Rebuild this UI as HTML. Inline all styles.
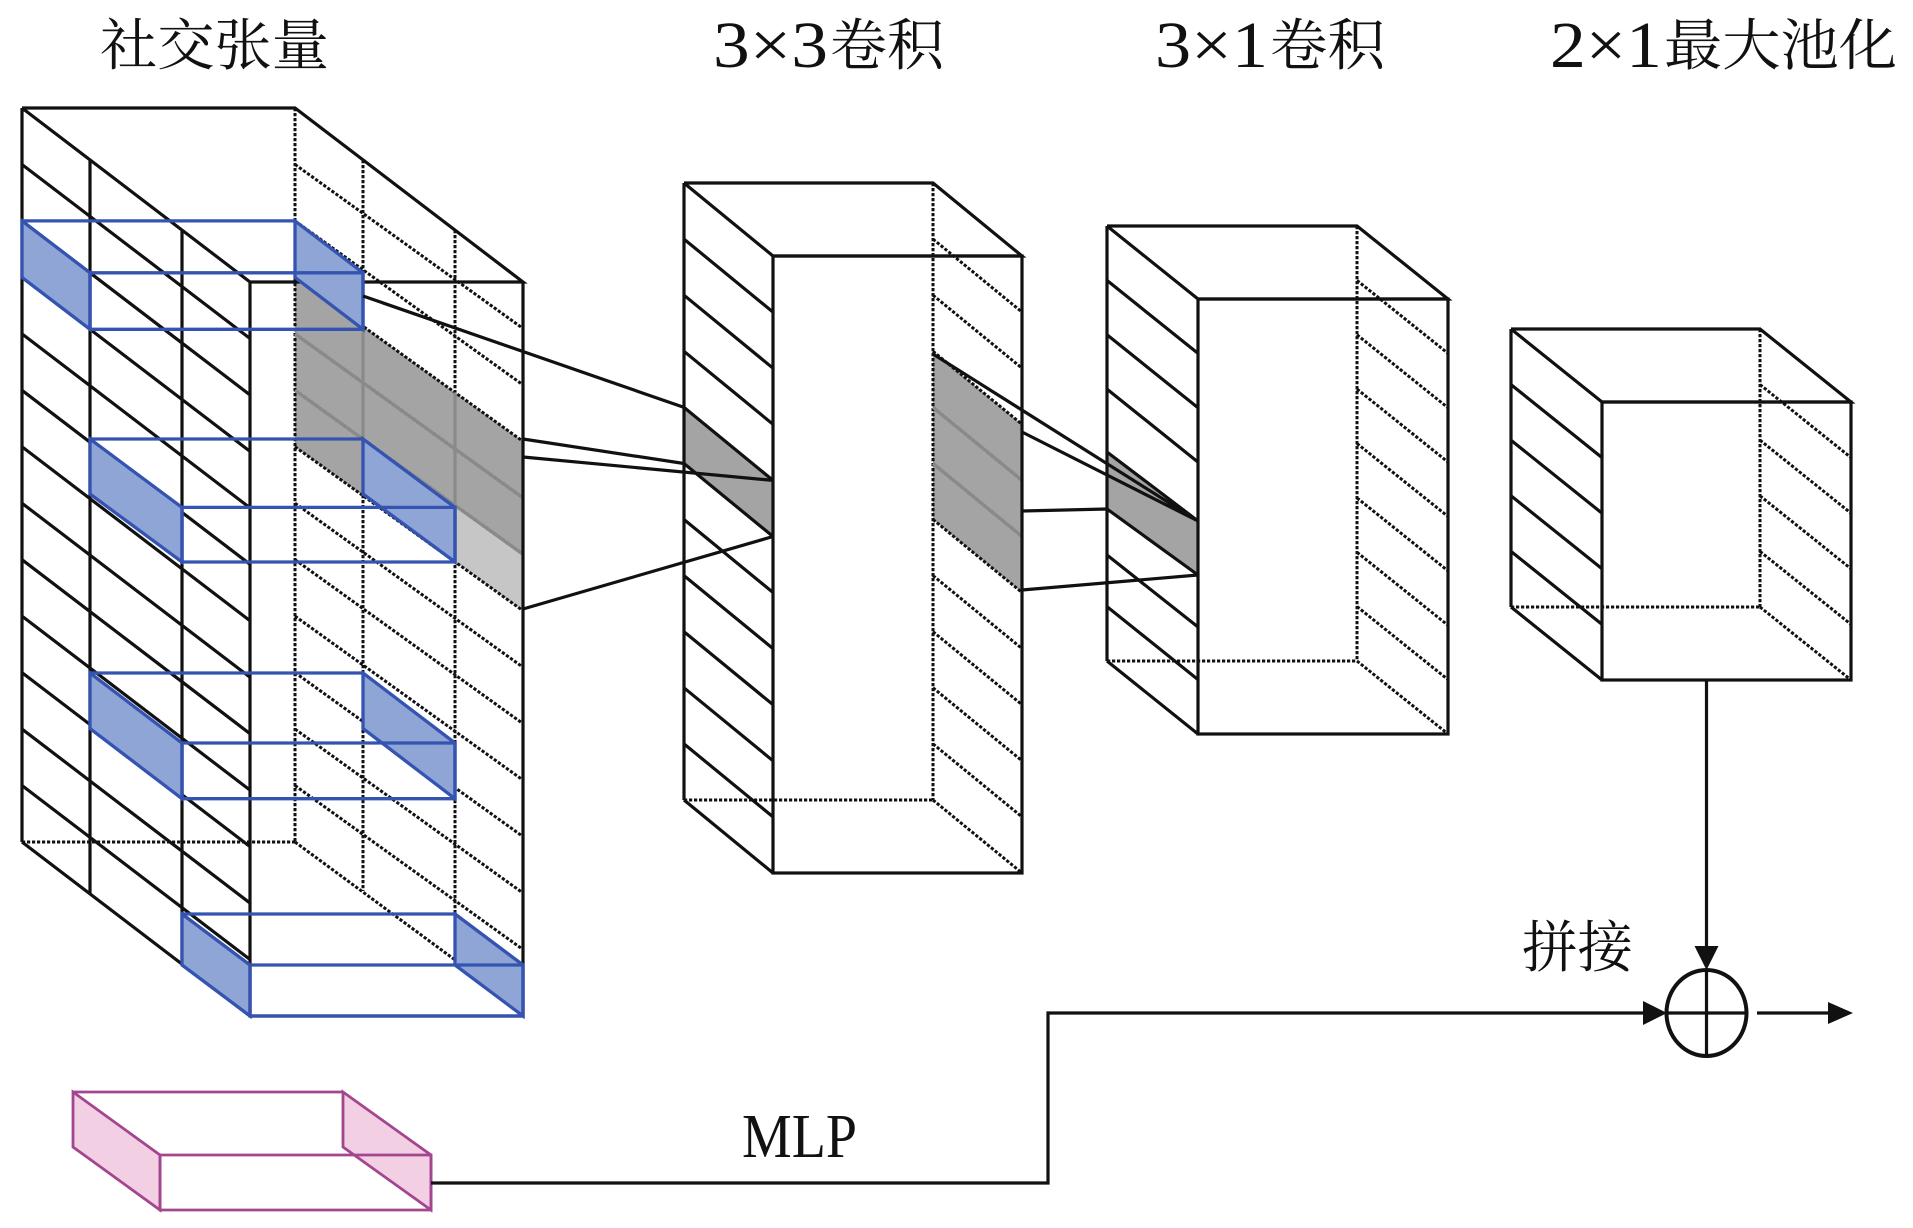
<!DOCTYPE html>
<html>
<head>
<meta charset="utf-8">
<style>
  html,body{margin:0;padding:0;background:#fff;}
  svg{display:block;}
  .s{fill:none;stroke:#111;stroke-width:3.2;stroke-linejoin:miter;}
  .d{fill:none;stroke:#111;stroke-width:3;stroke-dasharray:3.2 1.8;}
  .b{fill:none;stroke:#3553b0;stroke-width:3.3;}
  .bf{fill:#8ea5d6;stroke:#3553b0;stroke-width:3.3;}
  .g{fill:#a4a4a4;stroke:none;}
  .gl{fill:#c6c6c6;stroke:none;}
  .gline{fill:none;stroke:#8a8a8a;stroke-width:3.2;}
  .p{fill:none;stroke:#a3468f;stroke-width:2.8;}
  .pf{fill:#f3cfe3;stroke:#a3468f;stroke-width:2.8;}
  .cjk{font-family:"Liberation Serif","Noto Serif CJK SC",serif;font-size:56px;fill:#111;}
  .lat{font-family:"Liberation Serif",serif;fill:#111;}
</style>
</head>
<body>
<svg width="1913" height="1228" viewBox="0 0 1913 1228" xmlns="http://www.w3.org/2000/svg">

<!-- ===== Titles ===== -->
<text class="cjk" x="100" y="65" textLength="229" lengthAdjust="spacingAndGlyphs">社交张量</text>
<text class="lat" x="713" y="67" font-size="66" textLength="115" lengthAdjust="spacingAndGlyphs">3×3</text>
<text class="cjk" x="830" y="65" textLength="114" lengthAdjust="spacingAndGlyphs">卷积</text>
<text class="lat" x="1155" y="67" font-size="66" textLength="113" lengthAdjust="spacingAndGlyphs">3×1</text>
<text class="cjk" x="1270" y="65" textLength="115" lengthAdjust="spacingAndGlyphs">卷积</text>
<text class="lat" x="1550" y="67" font-size="66" textLength="112" lengthAdjust="spacingAndGlyphs">2×1</text>
<text class="cjk" x="1664" y="65" textLength="233" lengthAdjust="spacingAndGlyphs">最大池化</text>

<!-- ===== Big social tensor box ===== -->
<polygon class="g" points="295,277.4 523,441.4 523,610.8 295,446.8"/>
<polygon class="gl" points="455,505.3 523,554.3 523,610.8 455,561.8"/>
<path class="d" d="M295 108V842 M363 160V891 M455 230V957 M22 842H295
 M295 164.46L523 328.46 M295 220.92L523 384.92 M295 277.38L523 441.38 M295 333.84L523 497.84
 M295 390.3L523 554.3 M295 446.76L523 610.76 M295 503.22L523 667.22 M295 559.68L523 723.68
 M295 616.14L523 780.14 M295 672.6L523 836.6 M295 729.06L523 893.06 M295 785.52L523 949.52 M295 842L523 1010"/>
<path class="gline" d="M363 326.4V495.8 M455 392.4V561.8 M295 333.84L523 497.84 M295 390.3L523 554.3"/>
<path class="s" d="M22 108L250 282 M22 164.46L250 338.46 M22 220.92L250 394.92 M22 277.38L250 451.38
 M22 333.84L250 507.84 M22 390.3L250 564.3 M22 446.76L250 620.76 M22 503.22L250 677.22
 M22 559.68L250 733.68 M22 616.14L250 790.14 M22 672.6L250 846.6 M22 729.06L250 903.06
 M22 785.52L250 959.52 M22 842L250 1016
 M22 108V842 M90 159.9V893.9 M182 230.1V964.1 M250 282V1016
 M22 108H295L523 282H250 M523 282V1016H250"/>

<!-- blue boxes -->
<polygon class="bf" points="22,220.9 90,272.8 90,329.3 22,277.4"/>
<polygon class="bf" points="295,220.9 363,272.8 363,329.3 295,277.4"/>
<path class="b" d="M22 220.9H295 M90 272.8H363V329.3H90Z"/>

<polygon class="bf" points="90,439 182,507.4 182,562 90,494"/>
<polygon class="bf" points="363,439 455,507.4 455,562 363,494"/>
<path class="b" d="M90 439H363 M182 507.4H455V562H182Z"/>

<polygon class="bf" points="90,673 182,743 182,798.7 90,728.5"/>
<polygon class="bf" points="363,673 455,743 455,798.7 363,728.5"/>
<path class="b" d="M90 673H363 M182 743H455V798.7H182Z"/>

<polygon class="bf" points="182,914 250,965 250,1016 182,965"/>
<polygon class="bf" points="455,914 523,965 523,1016 455,965"/>
<path class="b" d="M182 914H455 M250 965H523V1016H250Z"/>

<!-- ===== 3x3 conv box ===== -->
<polygon class="g" points="933,351.3 1022,424.3 1022,592.5 933,519.5"/>
<polygon class="g" points="684,407.4 773,480.4 773,536.5 684,463.5"/>
<path class="d" d="M933 183V800 M684 800H933
 M933 239.1L1022 312.1 M933 295.2L1022 368.2 M933 351.3L1022 424.3 M933 407.4L1022 480.4
 M933 463.5L1022 536.5 M933 519.5L1022 592.5 M933 575.6L1022 648.6 M933 631.7L1022 704.7
 M933 687.8L1022 760.8 M933 743.9L1022 816.9 M933 800L1022 873"/>
<path class="gline" d="M933 407.4L1022 480.4 M933 463.5L1022 536.5"/>
<path class="s" d="M684 183L773 256 M684 239.1L773 312.1 M684 295.2L773 368.2 M684 351.3L773 424.3
 M684 407.4L773 480.4 M684 463.5L773 536.5 M684 519.5L773 592.5 M684 575.6L773 648.6
 M684 631.7L773 704.7 M684 687.8L773 760.8 M684 743.9L773 816.9 M684 800L773 873
 M684 183V800 M684 183H933L1022 256H773"/>
<rect class="s" x="773" y="256" width="249" height="617"/>

<!-- ===== 3x1 conv box ===== -->
<polygon class="g" points="1107,452 1198,521 1198,575 1107,509"/>
<path class="d" d="M1357 226V661 M1107 661H1357
 M1357 280.4L1448 353.4 M1357 334.8L1448 407.8 M1357 389.1L1448 462.1 M1357 443.5L1448 516.5
 M1357 497.9L1448 570.9 M1357 552.3L1448 625.3 M1357 606.6L1448 679.6 M1357 661L1448 734"/>
<path class="s" d="M1107 226L1198 299 M1107 280.4L1198 353.4 M1107 334.8L1198 407.8 M1107 389.1L1198 462.1
 M1107 452L1198 521 M1107 509L1198 575 M1107 555L1198 627 M1107 606.6L1198 679.6
 M1107 661L1198 734 M1107 226V661 M1107 226H1357L1448 299H1198"/>
<rect class="s" x="1198" y="299" width="250" height="435"/>

<!-- ===== 2x1 max pool box ===== -->
<path class="d" d="M1760 329V607 M1511 607H1760
 M1760 384.6L1851 457.6 M1760 440.2L1851 513.2 M1760 495.8L1851 568.8 M1760 551.4L1851 624.4 M1760 607L1851 680"/>
<path class="s" d="M1511 329L1602 402 M1511 384.6L1602 457.6 M1511 440.2L1602 513.2 M1511 495.8L1602 568.8
 M1511 551.4L1602 624.4 M1511 607L1602 680 M1511 329V607 M1511 329H1760L1851 402H1602"/>
<rect class="s" x="1602" y="402" width="249" height="278"/>

<!-- ===== connectors ===== -->
<path class="s" d="M363 296L684 407.4 M523 439L684 463.5 M523 457L773 480.4 M523 609L773 536.5"/>
<path class="s" d="M933 354L1198 521 M1022 432L1198 521 M1022 511L1107 509 M1022 590L1198 575"/>

<!-- ===== MLP box (pink) ===== -->
<polygon class="pf" points="73,1092 160,1155 160,1210 73,1147"/>
<polygon class="pf" points="343,1092 431,1155 431,1210 343,1147"/>
<path class="p" d="M73 1092H343 M160 1155H431V1210H160Z"/>

<text class="lat" x="742" y="1157" font-size="62" textLength="115" lengthAdjust="spacingAndGlyphs">MLP</text>

<path class="s" d="M431 1183H1048V1013H1645"/>
<polygon points="1643,1001 1643,1025 1667,1013" fill="#111"/>

<path class="s" d="M1706.5 680V948"/>
<polygon points="1694.5,946 1718.5,946 1706.5,970" fill="#111"/>

<ellipse cx="1706.5" cy="1013" rx="40" ry="43" fill="none" stroke="#111" stroke-width="4"/>
<path class="s" d="M1666.5 1013H1746.5 M1706.5 970V1056"/>

<path class="s" d="M1757 1013H1830"/>
<polygon points="1828,1002 1828,1024 1853,1013" fill="#111"/>

<text class="cjk" x="1522" y="967" textLength="111" lengthAdjust="spacingAndGlyphs">拼接</text>

</svg>
</body>
</html>
